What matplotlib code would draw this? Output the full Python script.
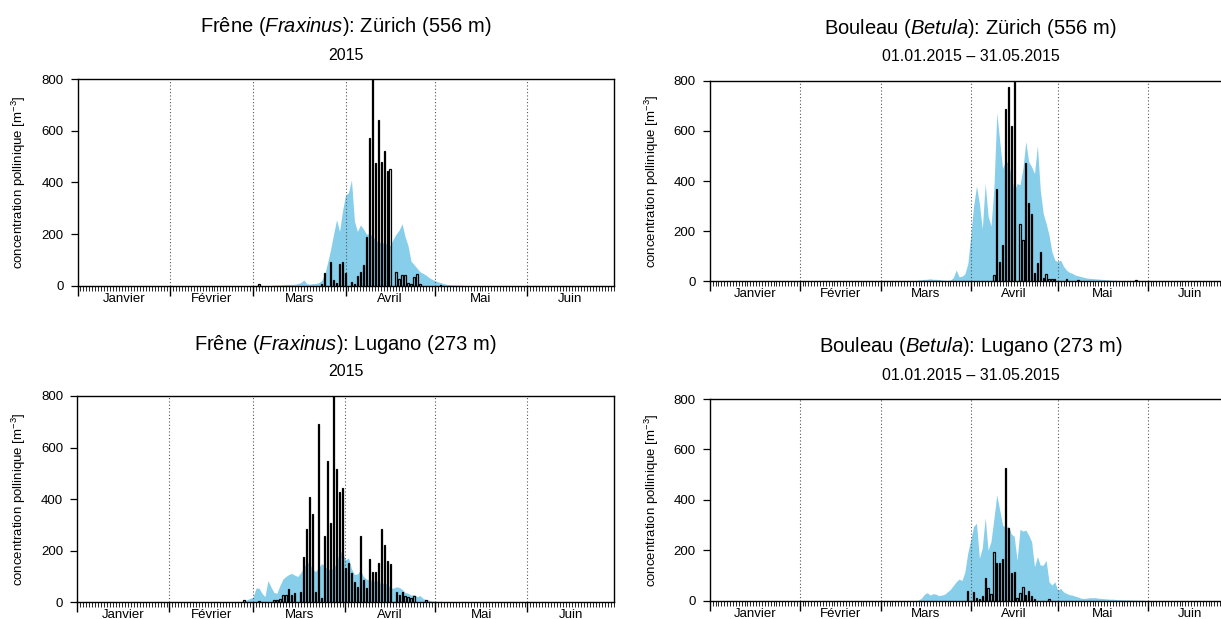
import matplotlib
matplotlib.use('Agg')
import matplotlib.pyplot as plt
from matplotlib.ticker import FixedLocator, MultipleLocator

plt.rcParams['font.family'] = ['Liberation Sans', 'DejaVu Sans']
plt.rcParams['mathtext.fontset'] = 'custom'
plt.rcParams['mathtext.rm'] = 'Liberation Sans'
plt.rcParams['mathtext.it'] = 'Liberation Sans:italic'

# days counted from 1 Jan 2015 (= 0)
month_starts = [0, 31, 59, 90, 120, 151]
month_mids = [15.5, 45, 74.5, 105, 135.5, 165.5]
month_names = ['Janvier', 'Février', 'Mars', 'Avril', 'Mai', 'Juin']
y_ticks = [0, 200, 400, 600, 800]

# Frêne, Zürich: measured (bars) and model (area)
zh_frax_days = [61, 82, 83, 85, 86, 87, 88, 89, 90, 92, 93, 94, 95, 96, 97, 98, 99, 100,
                101, 102, 103, 104, 105, 107, 108, 109, 110, 111, 112, 113, 114, 115, 122]
zh_frax_obs = [6, 8, 48, 90, 22, 9, 84, 93, 50, 15, 5, 37, 52, 80, 190, 570, 850, 473,
               641, 478, 522, 444, 452, 54, 26, 41, 41, 12, 8, 35, 44, 5, 3]
zh_frax_model_start = 65
zh_frax_model = [2, 2, 3, 3, 4, 5, 5, 5, 6, 8, 12, 22, 8, 6, 8, 8, 12, 20, 45, 90,
                 140, 200, 255, 210, 290, 350, 360, 410, 250, 210, 235, 220, 200, 200, 195, 175,
                 170, 165, 165, 160, 155, 180, 200, 215, 240, 190, 155, 95, 82, 68,
                 54, 48, 41, 32, 25, 20, 15, 12, 8, 5, 4, 3, 3, 2, 2, 1, 0]

# Bouleau, Zürich
zh_betu_days = [98, 99, 100, 101, 102, 103, 104, 105, 107, 108, 109, 110, 111, 112,
                113, 114, 115, 116, 117, 118, 119, 123, 127, 147]
zh_betu_obs = [25, 367, 76, 145, 686, 773, 619, 850, 227, 165, 473, 311, 268, 32,
               72, 116, 12, 30, 10, 10, 10, 8, 5, 4]
zh_betu_model_start = 70
zh_betu_model = [2, 3, 5, 6, 8, 8, 10, 8, 8, 7, 5, 4, 3, 5, 15, 45, 18, 20, 30, 70,
                 180, 300, 380, 310, 210, 390, 260, 220, 370, 672, 560, 450, 480, 470, 420, 360,
                 390, 385, 450, 557, 477, 457, 430, 541, 364, 271, 231, 185, 118, 85,
                 78, 85, 60, 45, 36, 32, 25, 22, 19, 16, 13, 12, 11, 10, 9, 8,
                 7, 6, 5, 4, 4, 3, 3, 2, 2, 1, 0]

# Frêne, Lugano
lu_frax_days = [56, 61, 66, 67, 68, 69, 70, 71, 72, 73, 75, 76, 77, 78, 79, 80, 81, 82,
                83, 84, 85, 86, 87, 88, 89, 90, 91, 92, 93, 94, 95, 96, 97, 98, 99, 100,
                101, 102, 103, 104, 105, 107, 108, 109, 110, 111, 112, 113, 117]
lu_frax_obs = [9, 5, 9, 9, 12, 28, 28, 50, 28, 35, 39, 177, 284, 407, 342, 39, 690, 16,
               258, 549, 306, 850, 517, 426, 442, 132, 151, 112, 80, 61, 258, 87, 54, 168, 116, 119,
               151, 284, 222, 160, 149, 39, 28, 41, 26, 22, 16, 25, 9]
lu_frax_model_start = 55
lu_frax_model = [2, 5, 10, 15, 20, 55, 55, 35, 22, 84, 60, 38, 35, 65, 90, 100, 108, 112,
                 105, 100, 115, 135, 155, 150, 125, 120, 135, 150, 140, 128, 125, 135, 150, 200,
                 190, 165, 172, 130, 108, 110, 125, 100, 90, 87, 85, 80, 85, 68, 78, 70,
                 55, 55, 60, 58, 50, 38, 35, 28, 30, 22, 26, 15, 10, 8, 5, 4, 3, 4, 2, 1, 0]

# Bouleau, Lugano
lu_betu_days = [89, 91, 92, 93, 94, 95, 96, 97, 98, 99, 100, 101, 102, 103, 104, 105,
                106, 107, 108, 109, 110, 111, 112, 117]
lu_betu_obs = [38, 33, 9, 7, 18, 91, 49, 26, 192, 151, 151, 165, 527, 287, 108, 115,
               9, 29, 53, 22, 40, 18, 7, 7]
lu_betu_model_start = 71
lu_betu_model = [0, 3, 10, 25, 32, 22, 28, 26, 20, 22, 26, 35, 45, 60, 75, 86, 80, 115,
                 190, 240, 295, 307, 168, 210, 330, 200, 235, 326, 420, 360, 300, 290, 295, 265,
                 255, 160, 283, 276, 280, 260, 234, 135, 175, 141, 141, 160, 75, 62, 75, 42,
                 49, 35, 29, 24, 22, 18, 15, 10, 9, 10, 12, 12, 12, 10, 9, 8, 7, 6, 6, 5,
                 4, 4, 3, 3, 3, 2, 2, 2, 2, 1, 0]

panels = [
    ('Frêne ($\\mathit{Fraxinus}$): Zürich (556 m)', '2015',
     zh_frax_days, zh_frax_obs, zh_frax_model_start, zh_frax_model,
     [77.5, 79, 536, 206.7]),
    ('Bouleau ($\\mathit{Betula}$): Zürich (556 m)', '01.01.2015 – 31.05.2015',
     zh_betu_days, zh_betu_obs, zh_betu_model_start, zh_betu_model,
     [709.7, 80.7, 522, 200.6]),
    ('Frêne ($\\mathit{Fraxinus}$): Lugano (273 m)', '2015',
     lu_frax_days, lu_frax_obs, lu_frax_model_start, lu_frax_model,
     [77.0, 396, 537, 206.3]),
    ('Bouleau ($\\mathit{Betula}$): Lugano (273 m)', '01.01.2015 – 31.05.2015',
     lu_betu_days, lu_betu_obs, lu_betu_model_start, lu_betu_model,
     [709.7, 399, 522, 201.7]),
]

W, H = 1221, 619
fig = plt.figure(figsize=(W / 100, H / 100), dpi=100)

for title, subtitle, days, obs, mstart, model, box in panels:
    left, top, width, height = box
    ax = fig.add_axes([left / W, (H - top - height) / H, width / W, height / H])

    mdays = list(range(mstart, mstart + len(model)))
    ax.fill_between(mdays, 0, model, color='#87CEEB', lw=0, zorder=1)
    ax.bar(days, obs, width=0.45, facecolor='none', edgecolor='black',
           linewidth=0.9, zorder=3)

    for d in month_starts[1:]:
        ax.axvline(d, color='#555555', lw=0.8, ls=(0, (1, 2)), zorder=2)

    ax.set_xlim(0, 180)
    ax.set_ylim(0, 800)
    ax.xaxis.set_major_locator(FixedLocator(month_starts))
    ax.xaxis.set_minor_locator(MultipleLocator(1))
    ax.set_xticklabels([])
    ax.tick_params(axis='x', which='major', direction='out', length=7, width=1)
    ax.tick_params(axis='x', which='minor', direction='out', length=3.5, width=0.6)
    ax.set_yticks(y_ticks)
    ax.tick_params(axis='y', direction='out', length=5, width=0.9, pad=5, labelsize=9.5)
    for s in ax.spines.values():
        s.set_linewidth(1.0)

    for mid, name in zip(month_mids, month_names):
        ax.annotate(name, xy=(mid, 0), xycoords=('data', 'axes fraction'),
                    xytext=(0, -5), textcoords='offset points',
                    ha='center', va='top', fontsize=9.5)

    ax.set_ylabel('concentration pollinique [m$^{-3}$]', fontsize=9.5)
    ax.yaxis.set_label_coords(-49 / width, 0.5)

    cx = (left + width / 2) / W
    fig.text(cx, 1 - (top - 52) / H, title, ha='center', va='center', fontsize=14.5)
    fig.text(cx, 1 - (top - 24) / H, subtitle, ha='center', va='center', fontsize=11.5)

fig.savefig('out.png', dpi=100)
